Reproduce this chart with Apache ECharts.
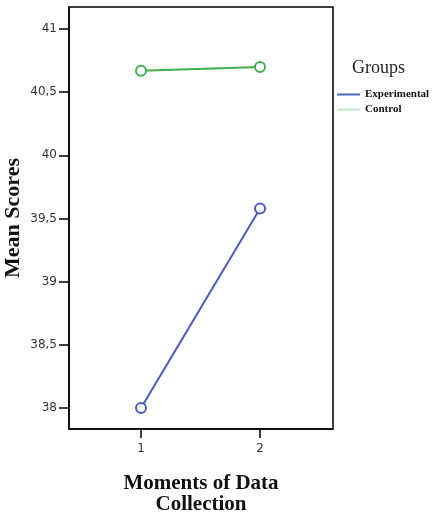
<!DOCTYPE html>
<html>
<head>
<meta charset="utf-8">
<script src="https://cdn.jsdelivr.net/npm/echarts@6/dist/echarts.min.js"></script>
<style>
html, body { margin: 0; padding: 0; background: #fff; }
#myChart { width: 436px; height: 513px; }
</style>
</head>
<body>
<div id="myChart"></div>
<script>
// moments (x) and group means
var moments = [1, 2];
var experimental = [38.0, 39.58];
var control = [40.67, 40.70];
var yTicks = [38, 38.5, 39, 39.5, 40, 40.5, 41];

var myChart = echarts.init(document.getElementById("myChart"));

function pairs(ys) {
  return moments.map(function (m, i) { return [m, ys[i]]; });
}

var option = {
  animation: false,
  backgroundColor: "#fff",
  grid: {
    left: 69,
    top: 7,
    right: 103,
    bottom: 84,
    outerBoundsMode: "none",
    containLabel: false,
    show: true,
    borderColor: "#000",
    borderWidth: 1.5
  },
  graphic: [
    {
      type: "text",
      left: 352,
      top: 59,
      style: {
        text: "Groups",
        font: "normal 18px 'Liberation Serif'",
        fill: "#222"
      }
    }
  ],
  legend: {
    orient: "vertical",
    left: 332,
    top: 84,
    itemWidth: 23,
    itemHeight: 2,
    itemGap: 4,
    icon: "rect",
    textStyle: {
      fontFamily: "Liberation Serif",
      fontWeight: "bold",
      fontSize: 11,
      color: "#111"
    },
    data: [
      { name: "Experimental", itemStyle: { color: "#5566c0" } },
      { name: "Control", itemStyle: { color: "#c6e8c6" } }
    ]
  },
  xAxis: {
    type: "value",
    min: 0.395,
    max: 2.613,
    name: "Moments of Data\nCollection",
    nameLocation: "middle",
    nameGap: 44,
    nameTextStyle: {
      fontFamily: "Liberation Serif",
      fontWeight: "bold",
      fontSize: 21,
      lineHeight: 21,
      color: "#111"
    },
    splitLine: { show: false },
    axisLine: { show: true, lineStyle: { color: "#000", width: 1.5 } },
    axisTick: {
      show: true,
      length: 9,
      customValues: moments,
      lineStyle: { color: "#000", width: 1.5 }
    },
    axisLabel: {
      customValues: moments,
      margin: 14,
      fontFamily: "DejaVu Sans",
      fontSize: 12,
      color: "#333"
    }
  },
  yAxis: {
    type: "value",
    min: 37.833,
    max: 41.175,
    name: "Mean Scores",
    nameLocation: "middle",
    nameRotate: 90,
    nameGap: 45,
    nameMoveOverlap: false,
    nameTextStyle: {
      fontFamily: "Liberation Serif",
      fontWeight: "bold",
      fontSize: 22,
      color: "#111"
    },
    splitLine: { show: false },
    axisLine: { show: true, lineStyle: { color: "#000", width: 1.5 } },
    axisTick: {
      show: true,
      length: 10,
      customValues: yTicks,
      lineStyle: { color: "#000", width: 1.5 }
    },
    axisLabel: {
      customValues: yTicks,
      margin: 12,
      fontFamily: "DejaVu Sans",
      fontSize: 12,
      color: "#333",
      formatter: function (v) { return String(v).replace(".", ","); }
    }
  },
  series: [
    {
      name: "Experimental",
      type: "line",
      data: pairs(experimental),
      symbol: "emptyCircle",
      symbolSize: 10,
      itemStyle: { color: "#4a5cb8", borderWidth: 1.2 },
      lineStyle: { color: "#4a5cb8", width: 2 }
    },
    {
      name: "Control",
      type: "line",
      data: pairs(control),
      symbol: "emptyCircle",
      symbolSize: 10,
      itemStyle: { color: "#3faf4a", borderWidth: 1.2 },
      lineStyle: { color: "#3faf4a", width: 2 }
    }
  ]
};

myChart.setOption(option);
</script>
</body>
</html>
